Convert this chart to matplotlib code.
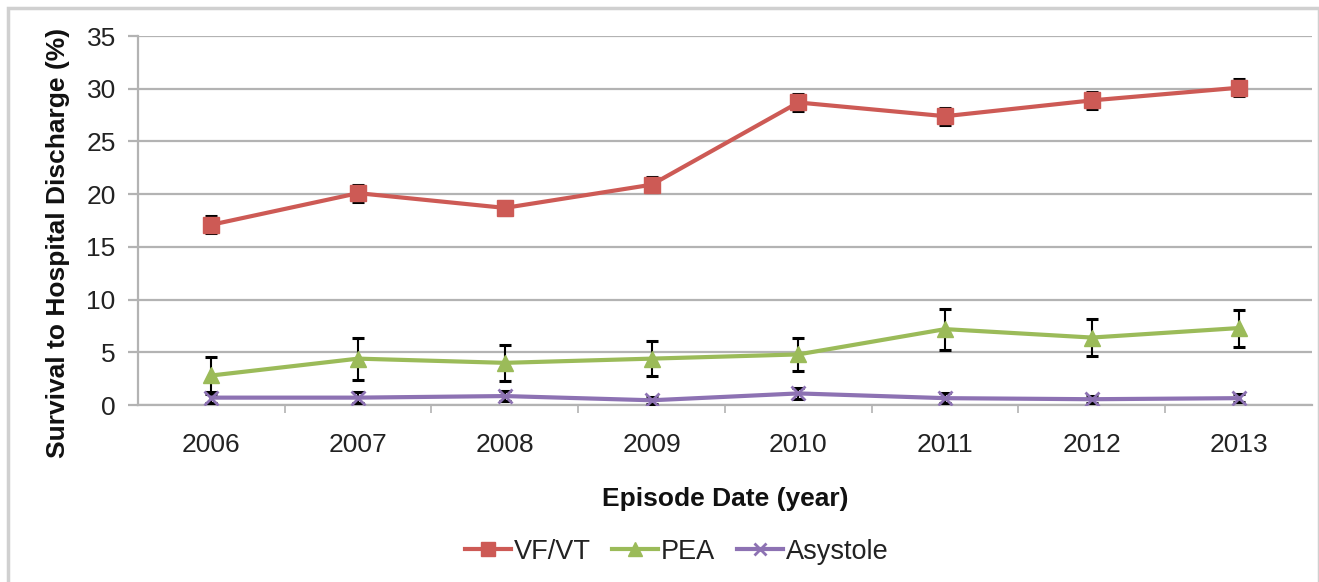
import matplotlib

matplotlib.use("Agg")
import matplotlib.pyplot as plt
from matplotlib.patches import Rectangle
import numpy as np

plt.rcParams["font.family"] = ["Liberation Sans", "DejaVu Sans"]

years = ["2006", "2007", "2008", "2009", "2010", "2011", "2012", "2013"]

vfvt = [17.1, 20.1, 18.7, 20.9, 28.7, 27.4, 28.9, 30.1]
vfvt_err = [0.8, 0.8, 0.7, 0.7, 0.8, 0.8, 0.8, 0.8]

pea = [2.8, 4.4, 4.0, 4.4, 4.8, 7.2, 6.4, 7.3]
pea_err = [1.8, 2.0, 1.7, 1.65, 1.6, 1.95, 1.75, 1.75]

asystole = [0.7, 0.7, 0.85, 0.45, 1.1, 0.65, 0.55, 0.65]
asystole_err = [0.5, 0.5, 0.5, 0.35, 0.5, 0.5, 0.35, 0.35]

RED = "#CD5A55"
GREEN = "#9BBB59"
PURPLE = "#8D72B3"
GRID = "#B3B3B3"
TEXT = "#222222"
FS = 19

fig = plt.figure(figsize=(13.19, 5.82), dpi=100)
fig.patches.append(
    Rectangle((0.006, -0.02), 0.994, 1.006, transform=fig.transFigure,
              fill=False, edgecolor="#D0D0D0", linewidth=2.5)
)

ax = fig.add_axes([0.1046, 0.3041, 0.8901, 0.6339])
x = np.arange(len(years))

series = [
    ("VF/VT", vfvt, vfvt_err, RED, "s", 11.5),
    ("PEA", pea, pea_err, GREEN, "^", 12),
    ("Asystole", asystole, asystole_err, PURPLE, "x", 10),
]
for label, vals, err, color, marker, ms in series:
    ax.errorbar(x, vals, yerr=err, fmt="none", ecolor="black",
                elinewidth=1.5, capsize=4, capthick=2.2, zorder=3)
    ax.plot(x, vals, color=color, linewidth=3, marker=marker, markersize=ms,
            markeredgewidth=2 if marker == "x" else 1, markeredgecolor=color,
            label=label, zorder=4)

ax.set_xlim(-0.5, len(years) - 0.5)
ax.set_ylim(0, 35)
ax.set_yticks(range(0, 36, 5))
ax.set_xticks(x)
ax.set_xticklabels(years)
ax.set_xticks(np.arange(0.5, len(years) - 0.5, 1), minor=True)

ax.yaxis.grid(True, color=GRID, linewidth=1.6)
ax.set_axisbelow(True)
for side in ["top", "right"]:
    ax.spines[side].set_visible(False)
for side in ["left", "bottom"]:
    ax.spines[side].set_color(GRID)
    ax.spines[side].set_linewidth(1.6)

ax.tick_params(axis="x", which="major", length=0, labelsize=FS, pad=20,
               labelcolor=TEXT)
ax.tick_params(axis="x", which="minor", length=6, color=GRID, width=1.2)
ax.tick_params(axis="y", length=7, color=GRID, width=1.6, labelsize=FS,
               labelcolor=TEXT, pad=9)

ax.set_xlabel("Episode Date (year)", fontsize=FS, fontweight="bold",
              labelpad=22, color="#111111")
ax.set_ylabel("Survival to Hospital Discharge (%)", fontsize=FS,
              fontweight="bold", color="#111111")
ax.yaxis.set_label_coords(-0.058, 0.44)

leg = fig.legend(loc="center", bbox_to_anchor=(0.513, 0.052), ncol=3,
                 frameon=False, fontsize=FS + 0.5, handlelength=1.7,
                 columnspacing=0.8, handletextpad=0.1, markerscale=0.85)
for t in leg.get_texts():
    t.set_color(TEXT)

fig.savefig("out.png", dpi=100, facecolor="white")
plt.close(fig)
